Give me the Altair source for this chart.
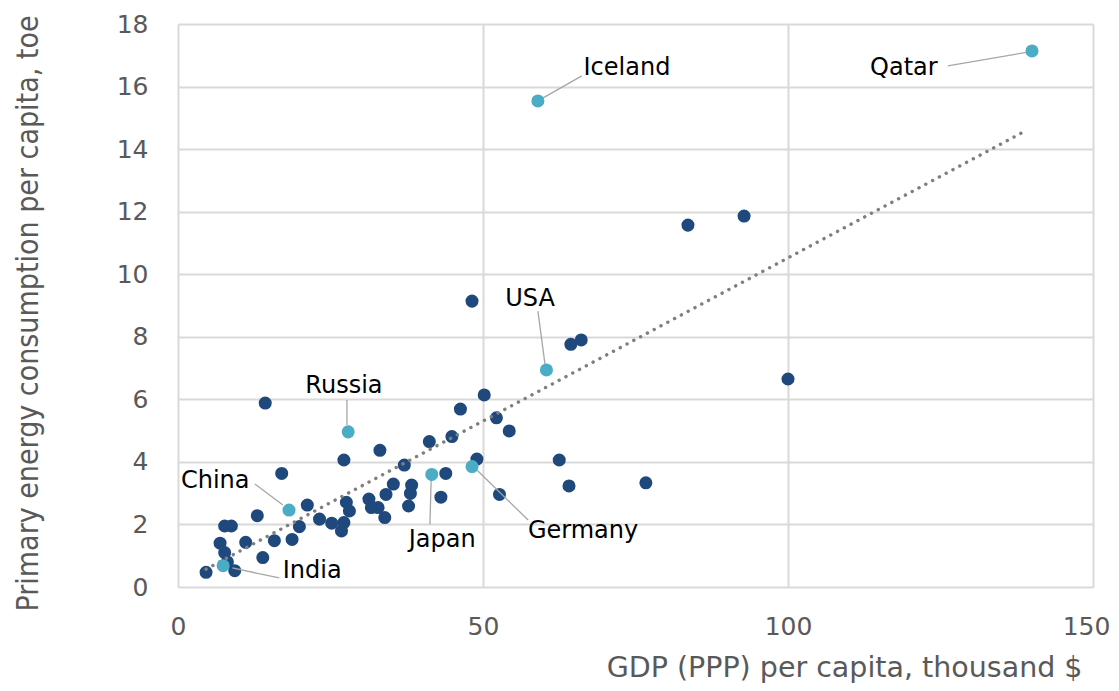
import altair as alt
import pandas as pd

# ---- data ----
dark_x = [14.3, 33.1, 27.2, 17.0, 21.2, 13.0, 27.6, 28.1, 31.3, 31.7, 32.8, 23.2, 25.2, 27.2,
          26.8, 19.9, 7.65, 8.75, 6.9, 7.65, 11.1, 15.8, 18.7, 13.9, 9.3, 4.6, 8.1, 50.2,
          46.3, 52.2, 54.3, 41.2, 44.9, 37.1, 49.0, 43.9, 35.3, 38.3, 34.1, 38.1, 43.1, 52.7,
          37.8, 33.9, 48.2, 64.4, 66.1, 62.5, 64.1, 76.7, 83.6, 92.8, 100.0]
dark_y = [5.88, 4.37, 4.06, 3.63, 2.62, 2.28, 2.71, 2.43, 2.81, 2.54, 2.54, 2.17, 2.04, 2.06,
          1.79, 1.93, 1.95, 1.95, 1.40, 1.10, 1.43, 1.48, 1.52, 0.94, 0.52, 0.47, 0.80, 6.14,
          5.69, 5.41, 4.99, 4.65, 4.81, 3.90, 4.09, 3.63, 3.29, 3.26, 2.96, 2.99, 2.87, 2.96,
          2.59, 2.22, 9.14, 7.76, 7.90, 4.06, 3.23, 3.33, 11.57, 11.86, 6.65]

hl_names = ["Iceland", "Qatar", "USA", "Russia", "China", "Japan", "Germany", "India"]
hl_x = [59.0, 140.0, 60.4, 27.9, 18.2, 41.6, 48.2, 7.4]
hl_y = [15.54, 17.14, 6.94, 4.96, 2.46, 3.60, 3.85, 0.68]

# annotation text anchors and leader lines (data units)
lab_x = [73.6, 119.0, 57.7, 27.2, 6.1, 43.3, 66.4, 22.0]
lab_y = [16.59, 16.59, 9.21, 6.43, 3.39, 1.50, 1.79, 0.51]
lead_x1 = [66.2, 126.2, 59.0, 27.7, 12.6, 41.3, 57.4, 16.6]
lead_y1 = [16.34, 16.66, 8.82, 5.98, 3.29, 2.01, 2.14, 0.29]
lead_x2 = [59.5, 139.3, 60.2, 27.7, 17.2, 41.5, 49.0, 8.9]
lead_y2 = [15.60, 17.10, 7.07, 5.18, 2.62, 3.42, 3.74, 0.61]

trend_x = [4.6, 138.9]
trend_y = [0.57, 14.58]

x_ticks = [0, 50, 100, 150]
y_ticks = [0, 2, 4, 6, 8, 10, 12, 14, 16, 18]

DARK = "#1f497d"
LIGHT = "#4bacc6"
FONT = "DejaVu Sans"
TFONT = "DejaVu Sans Condensed"

dark_df = pd.DataFrame({"x": dark_x, "y": dark_y})
hl_df = pd.DataFrame({"name": hl_names, "x": hl_x, "y": hl_y})
lab_df = pd.DataFrame({"name": hl_names, "lx": lab_x, "ly": lab_y,
                       "x1": lead_x1, "y1": lead_y1, "x2": lead_x2, "y2": lead_y2})
trend_df = pd.DataFrame({"x": trend_x, "y": trend_y})

xs = alt.Scale(domain=[0, 150], nice=False, zero=False)
ys = alt.Scale(domain=[0, 18], nice=False, zero=False)

x_axis = alt.Axis(values=x_ticks, grid=True, gridColor="#d9d9d9", gridWidth=2,
                  domain=False, ticks=False, labelFont=FONT, labelFontSize=25,
                  labelColor="#595959", labelPadding=27, labelFlush=False,
                  labelOffset=alt.condition("datum.value == 150", alt.value(-7), alt.value(0)),
                  title="GDP (PPP) per capita, thousand $", titleFont=FONT,
                  titleFontSize=28.5, titleFontWeight="normal", titleColor="#595959",
                  titleX=904, titleY=89, titleAlign="right", titleAnchor="end",
                  titleBaseline="alphabetic")
y_axis = alt.Axis(values=y_ticks, grid=True, gridColor="#d9d9d9", gridWidth=2,
                  domain=False, ticks=False, labelFont=FONT, labelFontSize=25,
                  labelColor="#595959", labelPadding=30, labelFlush=False,
                  title="Primary energy consumption per capita, toe", titleFont=TFONT,
                  titleFontSize=30, titleFontWeight="normal", titleColor="#595959",
                  titleX=-150, titleY=289, titleAngle=-90, titleAlign="center",
                  titleAnchor="middle", titleBaseline="middle")

dark = alt.Chart(dark_df).mark_circle(size=170, color=DARK, opacity=1).encode(
    x=alt.X("x:Q", scale=xs, axis=x_axis),
    y=alt.Y("y:Q", scale=ys, axis=y_axis),
)

trend = alt.Chart(trend_df).mark_line(color="#7f7f7f", strokeWidth=3.4,
                                      strokeDash=[0.1, 7.6], strokeCap="round").encode(
    x=alt.X("x:Q", scale=xs), y=alt.Y("y:Q", scale=ys))

leads = alt.Chart(lab_df).mark_rule(color="#a6a6a6", strokeWidth=1.3).encode(
    x=alt.X("x1:Q", scale=xs), y=alt.Y("y1:Q", scale=ys),
    x2="x2:Q", y2="y2:Q")

hl = alt.Chart(hl_df).mark_circle(size=170, color=LIGHT, opacity=1).encode(
    x=alt.X("x:Q", scale=xs), y=alt.Y("y:Q", scale=ys))

labels = alt.Chart(lab_df).mark_text(font=FONT, fontSize=24, color="#000000",
                                     align="center", baseline="middle").encode(
    x=alt.X("lx:Q", scale=xs), y=alt.Y("ly:Q", scale=ys), text="name:N")

chart = alt.layer(dark, trend, leads, hl, labels).properties(
    width=915, height=563,
    autosize=alt.AutoSizeParams(type="none"),
    padding={"left": 170, "top": 16, "right": 18, "bottom": 96},
).configure_view(stroke=None).configure(background="white")

chart.save("out.html", embed_options={"renderer": "svg", "actions": False})
